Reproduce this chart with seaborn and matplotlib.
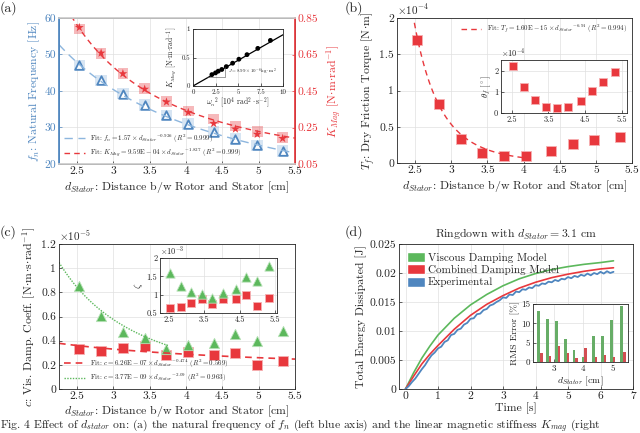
import numpy as np
import pandas as pd
import seaborn as sns
import matplotlib.pyplot as plt
from matplotlib.ticker import FuncFormatter
from matplotlib.patches import Patch
from matplotlib.lines import Line2D

# ---- data ----
d_stator = [2.53, 2.83, 3.13, 3.43, 3.73, 4.03, 4.38, 4.68, 4.98, 5.33]  # cm

# (a) natural frequency and magnetic stiffness
fn_hz = [47.0, 42.9, 39.3, 36.2, 33.3, 30.9, 28.8, 26.9, 25.1, 23.5]
kmag_box = [0.790, 0.655, 0.547, 0.462, 0.393, 0.340, 0.297, 0.258, 0.227, 0.195]
kmag_star = [0.798, 0.658, 0.545, 0.460, 0.390, 0.333, 0.272, 0.242, 0.213, 0.190]
omega_sq = [8.6, 7.2, 6.0, 5.1, 4.4, 3.7, 3.2, 2.8, 2.5, 2.1]  # 1e4 rad^2/s^2
kmag_inset = [0.80, 0.66, 0.55, 0.47, 0.40, 0.34, 0.29, 0.26, 0.23, 0.20]
J_fit = 0.0899  # slope in inset units (8.99e-6 kg m^2)

# (b) dry friction torque (x1e-4) and friction angle (x1e-4)
tf_e4 = [1.69, 0.82, 0.33, 0.14, 0.09, 0.09, 0.17, 0.26, 0.32, 0.36]
theta_e4 = [2.2, 1.25, 0.6, 0.27, 0.22, 0.27, 0.57, 1.03, 1.48, 1.92]

# (c) viscous damping coefficient (x1e-5) and damping ratio (x1e-3)
c_comb_e5 = [0.331, 0.317, 0.337, 0.353, 0.284, 0.306, 0.279, 0.301, 0.199, 0.234]
c_visc_e5 = [0.855, 0.607, 0.474, 0.422, 0.334, 0.364, 0.381, 0.458, 0.397, 0.483]
zeta_visc_e3 = [1.60, 1.25, 1.07, 1.02, 0.90, 1.04, 1.16, 1.49, 1.38, 1.79]
zeta_comb_e3 = [0.64, 0.66, 0.76, 0.87, 0.74, 0.88, 0.87, 0.98, 0.70, 0.90]

# fit coefficients printed in the legends (d in metres)
fit_fn = (1.57, -0.926)
fit_kmag = (9.59e-4, -1.827)
fit_tf = (1.60e-15, -6.91)
fit_c_comb = (6.26e-7, -0.474)
fit_c_visc = (3.77e-9, -2.09)

# (d) ringdown energy, d = 3.1 cm
t_model = [0, 0.25, 0.5, 0.75, 1.0, 1.5, 2.0, 2.5, 3.0, 3.5, 4.0, 4.5, 5.0, 5.5, 6.0, 6.4]
e_visc = [0, 0.0028, 0.0053, 0.0074, 0.0093, 0.0122, 0.0145, 0.0163, 0.0178,
          0.0190, 0.0199, 0.0206, 0.0211, 0.0215, 0.0218, 0.0221]
e_comb = [0, 0.0022, 0.0043, 0.0060, 0.0075, 0.0103, 0.0127, 0.0146, 0.0161,
          0.0174, 0.0184, 0.0192, 0.0198, 0.0203, 0.0207, 0.0209]
t_exp = [round(0.1 * i, 1) for i in range(65)]
e_exp = [0.0000, 0.0005, 0.0012, 0.0018, 0.0026, 0.0034, 0.0041, 0.0050, 0.0058, 0.0063,
         0.0070, 0.0073, 0.0081, 0.0084, 0.0093, 0.0095, 0.0102, 0.0104, 0.0111, 0.0114,
         0.0121, 0.0122, 0.0129, 0.0130, 0.0136, 0.0138, 0.0144, 0.0146, 0.0150, 0.0153,
         0.0158, 0.0157, 0.0163, 0.0162, 0.0168, 0.0167, 0.0172, 0.0171, 0.0175, 0.0174,
         0.0179, 0.0178, 0.0182, 0.0181, 0.0185, 0.0184, 0.0188, 0.0186, 0.0190, 0.0189,
         0.0193, 0.0191, 0.0195, 0.0193, 0.0197, 0.0195, 0.0199, 0.0196, 0.0200, 0.0198,
         0.0202, 0.0199, 0.0203, 0.0200, 0.0202]
rms_visc = [13.2, 11.2, 10.5, 5.9, 3.0, 1.3, 6.7, 6.6, 10.9, 14.5]
rms_comb = [2.2, 1.6, 4.1, 2.3, 1.1, 3.7, 1.3, 1.7, 1.3, 2.6]

# ---- style ----
BLUE = '#4f86bf'
BLUE_L = '#8db6de'
RED = '#e8383d'
GREEN = '#5cb85c'
INK = '#262626'
LAB = 8.5

sns.set_theme(style="whitegrid")
plt.rcParams['font.family'] = 'serif'
plt.rcParams['font.serif'] = ['cmr10', 'DejaVu Serif']
plt.rcParams['mathtext.fontset'] = 'cm'
plt.rcParams['axes.formatter.use_mathtext'] = True
plt.rcParams['axes.unicode_minus'] = False

gfmt = FuncFormatter(lambda v, p: '%g' % v)


def box(l, t, r, b):
    return [l / 640, 1 - b / 433, (r - l) / 640, (b - t) / 433]


def style(ax, fs=8.3):
    ax.set_facecolor('white')
    ax.grid(True, color='#e0e0e0', lw=0.5)
    for s in ax.spines.values():
        s.set_color(INK)
        s.set_linewidth(0.6)
    ax.tick_params(direction='in', length=2.5, width=0.5, labelsize=fs, pad=2,
                   colors=INK, left=True, bottom=True)
    ax.xaxis.set_major_formatter(gfmt)
    ax.yaxis.set_major_formatter(gfmt)


def fit_curve(coef, lo, hi):
    d = np.linspace(lo, hi, 120)
    return d, coef[0] * (d / 100) ** coef[1]


def offset(ax, txt, fs=8):
    ax.text(0.0, 1.01, txt, transform=ax.transAxes, fontsize=fs, ha='left', va='bottom', color=INK)


fig = plt.figure(figsize=(6.4, 4.33), dpi=100)
xlab = r'$d_{Stator}$: Distance b/w Rotor and Stator [cm]'
dot = r'$\!\cdot\!$'

# ---------------- (a) ----------------
ax_a = fig.add_axes(box(59, 18, 295, 164))
style(ax_a)
dd, ff = fit_curve(fit_fn, 2.25, 5.5)
sns.lineplot(x=dd, y=ff, ax=ax_a, color=BLUE_L, ls=(0, (6, 4)), lw=1)
sns.scatterplot(x=d_stator, y=fn_hz, ax=ax_a, marker='s', s=70, color=BLUE_L, alpha=0.35, edgecolor='none')
sns.scatterplot(x=d_stator, y=fn_hz, ax=ax_a, marker='^', s=38, color='white', edgecolor=BLUE, linewidth=1.3)
ax_a.set_xlim(2.25, 5.5)
ax_a.set_ylim(20, 60)
ax_a.set_xticks([2.5, 3, 3.5, 4, 4.5, 5, 5.5])
ax_a.set_yticks([20, 30, 40, 50, 60])
ax_a.tick_params(axis='y', colors=BLUE)
ax_a.spines['left'].set_color(BLUE)
ax_a.set_xlabel(xlab, fontsize=LAB, color=INK, labelpad=2)
ax_a.set_ylabel(r'$f_n$: Natural Frequency [Hz]', fontsize=LAB, color=BLUE, labelpad=2)

ax_a2 = ax_a.twinx()
ax_a2.grid(False)
dd, kk = fit_curve(fit_kmag, 2.25, 5.5)
sns.lineplot(x=dd, y=kk, ax=ax_a2, color=RED, ls=(0, (4, 3)), lw=1)
sns.scatterplot(x=d_stator, y=kmag_box, ax=ax_a2, marker='s', s=60, color=RED, alpha=0.35, edgecolor='none')
sns.scatterplot(x=d_stator, y=kmag_star, ax=ax_a2, marker='*', s=45, color=RED, edgecolor='none')
ax_a2.set_ylim(0.05, 0.85)
ax_a2.set_yticks([0.05, 0.25, 0.45, 0.65, 0.85])
ax_a2.yaxis.set_major_formatter(gfmt)
ax_a2.tick_params(axis='y', direction='in', length=2.5, width=0.5, labelsize=8.3, pad=2, colors=RED, right=True)
ax_a2.spines['right'].set_color(RED)
ax_a2.spines['left'].set_color(BLUE)
ax_a2.set_ylabel(r'$K_{Mag}$ [N' + dot + 'm' + dot + r'rad$^{-1}$]', fontsize=LAB, color=RED, labelpad=4)
ax_a2.legend(handles=[
    Line2D([], [], color=BLUE_L, ls=(0, (6, 4)), lw=1,
           label=r'Fit: $f_n = 1.57 \times {d_{Stator}}^{-0.926}$ ($R^2 = 0.999$)'),
    Line2D([], [], color=RED, ls=(0, (4, 3)), lw=1,
           label=r'Fit: $K_{Mag} = 9.59\mathrm{E}-04 \times {d_{Stator}}^{-1.827}$ ($R^2 = 0.999$)')],
    loc='lower left', fontsize=5, frameon=False, handlelength=3, borderaxespad=0.3, labelspacing=0.3)

ins_a = fig.add_axes(box(193, 29, 283, 86))
style(ins_a, fs=5)
sns.lineplot(x=[0, 10], y=[0, 10 * J_fit], ax=ins_a, color='black', lw=0.9)
sns.scatterplot(x=omega_sq, y=kmag_inset, ax=ins_a, color='black', s=12, edgecolor='none')
sns.lineplot(x=[1.5, 3.5, 3.5], y=[0.16, 0.16, 0.33], ax=ins_a, color='#555555', lw=0.4, sort=False, estimator=None)
ins_a.text(3.9, 0.22, r'$J = 8.99 \times 10^{-6}\,\mathrm{kg}\cdot\mathrm{m}^2$', fontsize=3.5, color=INK)
ins_a.set_xlim(0, 10)
ins_a.set_ylim(0, 1)
ins_a.set_xticks([0, 2.5, 5, 7.5, 10])
ins_a.set_yticks([0, 0.5, 1])
ins_a.set_xlabel(r'$\omega_n{}^2$ [$10^4$ rad$^2\cdot$s$^{-2}$]', fontsize=5.5, labelpad=1)
ins_a.set_ylabel(r'$K_{Mag}$ [N' + dot + 'm' + dot + r'rad$^{-1}$]', fontsize=5.5, labelpad=1)

# ---------------- (b) ----------------
ax_b = fig.add_axes(box(397, 18, 632, 163))
style(ax_b)
dd, tt = fit_curve(fit_tf, 2.49, 4.03)
sns.lineplot(x=dd, y=tt * 1e4, ax=ax_b, color=RED, ls=(0, (4, 3)), lw=1)
sns.scatterplot(x=d_stator, y=tf_e4, ax=ax_b, marker='s', s=45, color=RED, edgecolor='#f6b0b2', linewidth=0.6)
ax_b.set_xlim(2.25, 5.5)
ax_b.set_ylim(0, 2)
ax_b.set_xticks([2.5, 3, 3.5, 4, 4.5, 5, 5.5])
ax_b.set_yticks([0, 0.5, 1, 1.5, 2])
ax_b.set_xlabel(xlab, fontsize=LAB, labelpad=2, color=INK)
ax_b.set_ylabel(r'$T_f$: Dry Friction Torque [N' + dot + 'm]', fontsize=LAB, labelpad=2, color=INK)
offset(ax_b, r'$\times10^{-4}$', fs=8)
ax_b.legend(handles=[Line2D([], [], color=RED, ls=(0, (4, 3)), lw=1,
                            label=r'Fit: $T_f = 1.60\mathrm{E}-15 \times {d_{Stator}}^{-6.91}$ ($R^2 = 0.994$)')],
            loc='upper right', fontsize=5, frameon=False, handlelength=3, borderaxespad=0.3)

ins_b = fig.add_axes(box(501, 60, 627, 113))
style(ins_b, fs=6)
sns.scatterplot(x=d_stator, y=theta_e4, ax=ins_b, marker='s', s=38, color=RED, edgecolor='#f6b0b2', linewidth=0.6)
ins_b.set_xlim(2.2, 5.65)
ins_b.set_ylim(0, 2.5)
ins_b.set_xticks([2.5, 3.5, 4.5, 5.5])
ins_b.set_yticks([0, 1, 2])
ins_b.set_ylabel(r'$\theta_f$ [$^\circ$]', fontsize=6.5, labelpad=1)
offset(ins_b, r'$\times10^{-4}$', fs=6)

# ---------------- (c) ----------------
ax_c = fig.add_axes(box(59, 244, 295, 389))
style(ax_c)
dd, cc = fit_curve(fit_c_comb, 2.25, 5.5)
sns.lineplot(x=dd, y=cc * 1e5, ax=ax_c, color=RED, ls=(0, (4, 3)), lw=1.2)
dd, cv = fit_curve(fit_c_visc, 2.25, 3.75)
sns.lineplot(x=dd, y=cv * 1e5, ax=ax_c, color=GREEN, ls=(0, (1, 1)), lw=1)
sns.scatterplot(x=d_stator, y=c_comb_e5, ax=ax_c, marker='s', s=45, color=RED, edgecolor='#f6b0b2', linewidth=0.6)
sns.scatterplot(x=d_stator, y=c_visc_e5, ax=ax_c, marker='^', s=55, color=GREEN, edgecolor='#b9e3b9', linewidth=0.6)
ax_c.set_xlim(2.25, 5.5)
ax_c.set_ylim(0, 1.2)
ax_c.set_xticks([2.5, 3, 3.5, 4, 4.5, 5, 5.5])
ax_c.set_yticks([0, 0.2, 0.4, 0.6, 0.8, 1, 1.2])
ax_c.set_xlabel(xlab, fontsize=LAB, labelpad=1, color=INK)
ax_c.set_ylabel(r'$c$: Vis. Damp. Coeff. [N' + dot + 'm' + dot + 's' + dot + r'rad$^{-1}$]',
                fontsize=LAB, labelpad=2, color=INK)
offset(ax_c, r'$\times10^{-5}$', fs=8)
ax_c.legend(handles=[
    Line2D([], [], color=RED, ls=(0, (4, 3)), lw=1.2,
           label=r'Fit: $c = 6.26\mathrm{E}-07 \times {d_{Stator}}^{-0.474}$ ($R^2 = 0.569$)'),
    Line2D([], [], color=GREEN, ls=(0, (1, 1)), lw=1,
           label=r'Fit: $c = 3.77\mathrm{E}-09 \times {d_{Stator}}^{-2.09}$ ($R^2 = 0.963$)')],
    loc='lower left', fontsize=5, frameon=False, handlelength=3, borderaxespad=0.3, labelspacing=0.3)

ins_c = fig.add_axes(box(160, 258, 277, 313))
style(ins_c, fs=6)
sns.scatterplot(x=d_stator, y=zeta_comb_e3, ax=ins_c, marker='s', s=38, color=RED, edgecolor='#f6b0b2', linewidth=0.6)
sns.scatterplot(x=d_stator, y=zeta_visc_e3, ax=ins_c, marker='^', s=45, color=GREEN, edgecolor='#b9e3b9', linewidth=0.6)
ins_c.set_xlim(2.25, 5.55)
ins_c.set_ylim(0.5, 2)
ins_c.set_xticks([2.5, 3.5, 4.5, 5.5])
ins_c.set_yticks([0.5, 1, 1.5, 2])
ins_c.set_ylabel(r'$\zeta$', fontsize=7, labelpad=1)
offset(ins_c, r'$\times10^{-3}$', fs=6)

# ---------------- (d) ----------------
ax_d = fig.add_axes(box(399, 244, 633, 389))
style(ax_d)
sns.lineplot(x=t_model, y=e_visc, ax=ax_d, color=GREEN, lw=1.2)
sns.lineplot(x=t_model, y=e_comb, ax=ax_d, color=RED, lw=1.2)
sns.lineplot(x=t_exp, y=e_exp, ax=ax_d, color=BLUE, lw=1.3)
ax_d.set_xlim(-0.2, 7)
ax_d.set_ylim(0, 0.025)
ax_d.set_xticks(range(8))
ax_d.set_yticks([0, 0.005, 0.01, 0.015, 0.02, 0.025])
ax_d.set_xlabel('Time [s]', fontsize=LAB, labelpad=1, color=INK)
ax_d.set_ylabel('Total Energy Dissipated [J]', fontsize=LAB, labelpad=2, color=INK)
ax_d.set_title(r'Ringdown with $d_{Stator} = 3.1$ cm', fontsize=LAB, pad=4, color=INK)
ax_d.legend(handles=[Patch(facecolor=GREEN, label='Viscous Damping Model'),
                     Patch(facecolor=RED, label='Combined Damping Model'),
                     Patch(facecolor=BLUE, label='Experimental')],
            loc='upper left', fontsize=8, frameon=False, handlelength=1.6, handleheight=1.0,
            labelspacing=0.15, handletextpad=0.3, borderaxespad=0.3)

rms = pd.DataFrame({
    'd': d_stator * 2,
    'err': rms_visc + rms_comb,
    'model': ['Viscous'] * len(d_stator) + ['Combined'] * len(d_stator),
})
ins_d = fig.add_axes(box(533, 304, 628, 362))
style(ins_d, fs=6.5)
sns.barplot(data=rms, x='d', y='err', hue='model', native_scale=True, width=0.6,
            palette=[GREEN, RED], errorbar=None, legend=False, linewidth=0, ax=ins_d)
ins_d.set_xlim(2.3, 5.5)
ins_d.set_ylim(0, 15)
ins_d.set_xticks([3, 4, 5])
ins_d.set_yticks([0, 5, 10, 15])
ins_d.xaxis.set_major_formatter(gfmt)
ins_d.set_xlabel(r'$d_{Stator}$ [cm]', fontsize=7, labelpad=1)
ins_d.set_ylabel('RMS Error [%]', fontsize=7, labelpad=1)

# panel letters and caption
for lab, x, y in [('(a)', 0, 8), ('(b)', 345, 8), ('(c)', 0, 232), ('(d)', 345, 232)]:
    fig.text(x / 640, 1 - y / 433, lab, fontsize=10, va='center', ha='left')
fig.text(0, 4.5 / 433, r'Fig. 4 Effect of $d_{stator}$ on: (a) the natural frequency of $f_n$ (left blue axis) '
         r'and the linear magnetic stiffness $K_{mag}$ (right', fontsize=8.4, va='baseline', ha='left')

fig.savefig('out.png', dpi=100)
